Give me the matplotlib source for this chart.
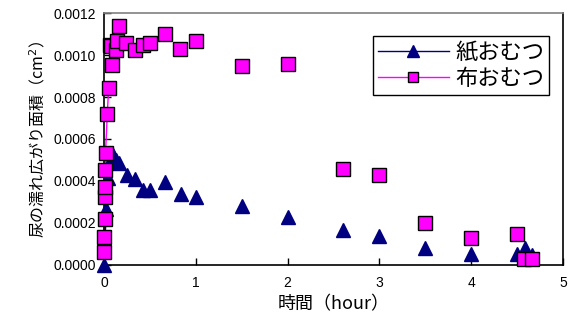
import matplotlib
matplotlib.use("Agg")
import matplotlib.pyplot as plt
from matplotlib.ticker import FormatStrFormatter, MultipleLocator

plt.rcParams['font.family'] = ['Liberation Sans', 'Noto Sans CJK JP', 'DejaVu Sans']

# 紙おむつ (paper diaper)
paper_x = [0.0, 0.024, 0.04, 0.096, 0.13, 0.16, 0.25, 0.34, 0.42, 0.50, 0.66, 0.84, 1.0,
           1.5, 2.0, 2.6, 3.0, 3.5, 4.0, 4.5, 4.59, 4.66]
paper_y = [0.0, 0.000265, 0.000413, 0.000524, 0.000500, 0.000484, 0.000429, 0.000408,
           0.000357, 0.000357, 0.000397, 0.000337, 0.000325, 0.000281, 0.000230,
           0.000167, 0.000138, 0.000082, 0.000052, 0.000052, 0.000080, 0.000048]

# 布おむつ (cloth diaper)
cloth_x = [0.0, 0.0, 0.005, 0.01, 0.01, 0.013, 0.016, 0.035, 0.05, 0.085, 0.065, 0.08,
           0.13, 0.14, 0.16, 0.24, 0.34, 0.42, 0.50, 0.66, 0.83, 1.0, 1.5, 2.0, 2.6,
           3.0, 3.5, 4.0, 4.5, 4.575, 4.66]
cloth_y = [0.000062, 0.000135, 0.000218, 0.000325, 0.000370, 0.000452, 0.000535,
           0.000719, 0.000841, 0.000954, 0.001050, 0.001043, 0.001024, 0.001067,
           0.001138, 0.001059, 0.001024, 0.001046, 0.001059, 0.001099, 0.001027,
           0.001068, 0.000946, 0.000956, 0.000459, 0.000430, 0.000201, 0.000129,
           0.000146, 0.000029, 0.000029]

# number of early points joined by a line
paper_joined = 4
cloth_joined = 9

NAVY = '#000080'
PINK = '#FF00FF'

fig = plt.figure(figsize=(5.75, 3.27), dpi=100)
ax = fig.add_axes([0.181, 0.190, 0.798, 0.770])

ax.plot(paper_x[:paper_joined], paper_y[:paper_joined], color=NAVY, lw=1.0, zorder=2, clip_on=False)
ax.plot(cloth_x[:cloth_joined], cloth_y[:cloth_joined], color=PINK, lw=1.0, zorder=2, clip_on=False)

ax.plot(paper_x, paper_y, ls='none', marker='^', ms=10, color=NAVY, mec=NAVY, zorder=3,
        clip_on=False)
ax.plot(cloth_x, cloth_y, ls='none', marker='s', ms=9.5, color=PINK, mec='black',
        mew=1.0, zorder=4, clip_on=False)

# legend proxies
ax.plot([], [], color=NAVY, lw=1.0, marker='^', ms=8, mec=NAVY, label='紙おむつ')
ax.plot([], [], color=PINK, lw=1.0, marker='s', ms=7.5, mfc=PINK, mec='black', label='布おむつ')

ax.set_xlim(0, 5)
ax.set_ylim(0, 0.0012)
ax.xaxis.set_major_locator(MultipleLocator(1))
ax.yaxis.set_major_locator(MultipleLocator(0.0002))
ax.yaxis.set_major_formatter(FormatStrFormatter('%.4f'))
ax.tick_params(direction='in', length=5, width=1, labelsize=10, pad=6)
ax.tick_params(axis='x', pad=8)

for s in ['left', 'bottom', 'right']:
    ax.spines[s].set_color('black')
    ax.spines[s].set_linewidth(1.2)
ax.spines['top'].set_color('#808080')
ax.spines['top'].set_linewidth(1.2)

ax.set_xlabel('時間（hour）', fontsize=13, family=['Noto Sans CJK JP', 'DejaVu Sans'], labelpad=4)
ax.set_ylabel('尿の濡れ広がり面積（cm$^2$）', fontsize=11.5,
              family=['Noto Sans CJK JP', 'DejaVu Sans'], labelpad=4)

leg = ax.legend(loc='upper right', bbox_to_anchor=(0.97, 0.907),
                prop={'family': ['Noto Sans CJK JP'], 'size': 16},
                frameon=True, fancybox=False, edgecolor='black', framealpha=1,
                borderpad=0.2, labelspacing=0.15, handlelength=3.2, handletextpad=0.3,
                borderaxespad=0)
leg.get_frame().set_linewidth(1.0)

fig.savefig('out.png', dpi=100)
